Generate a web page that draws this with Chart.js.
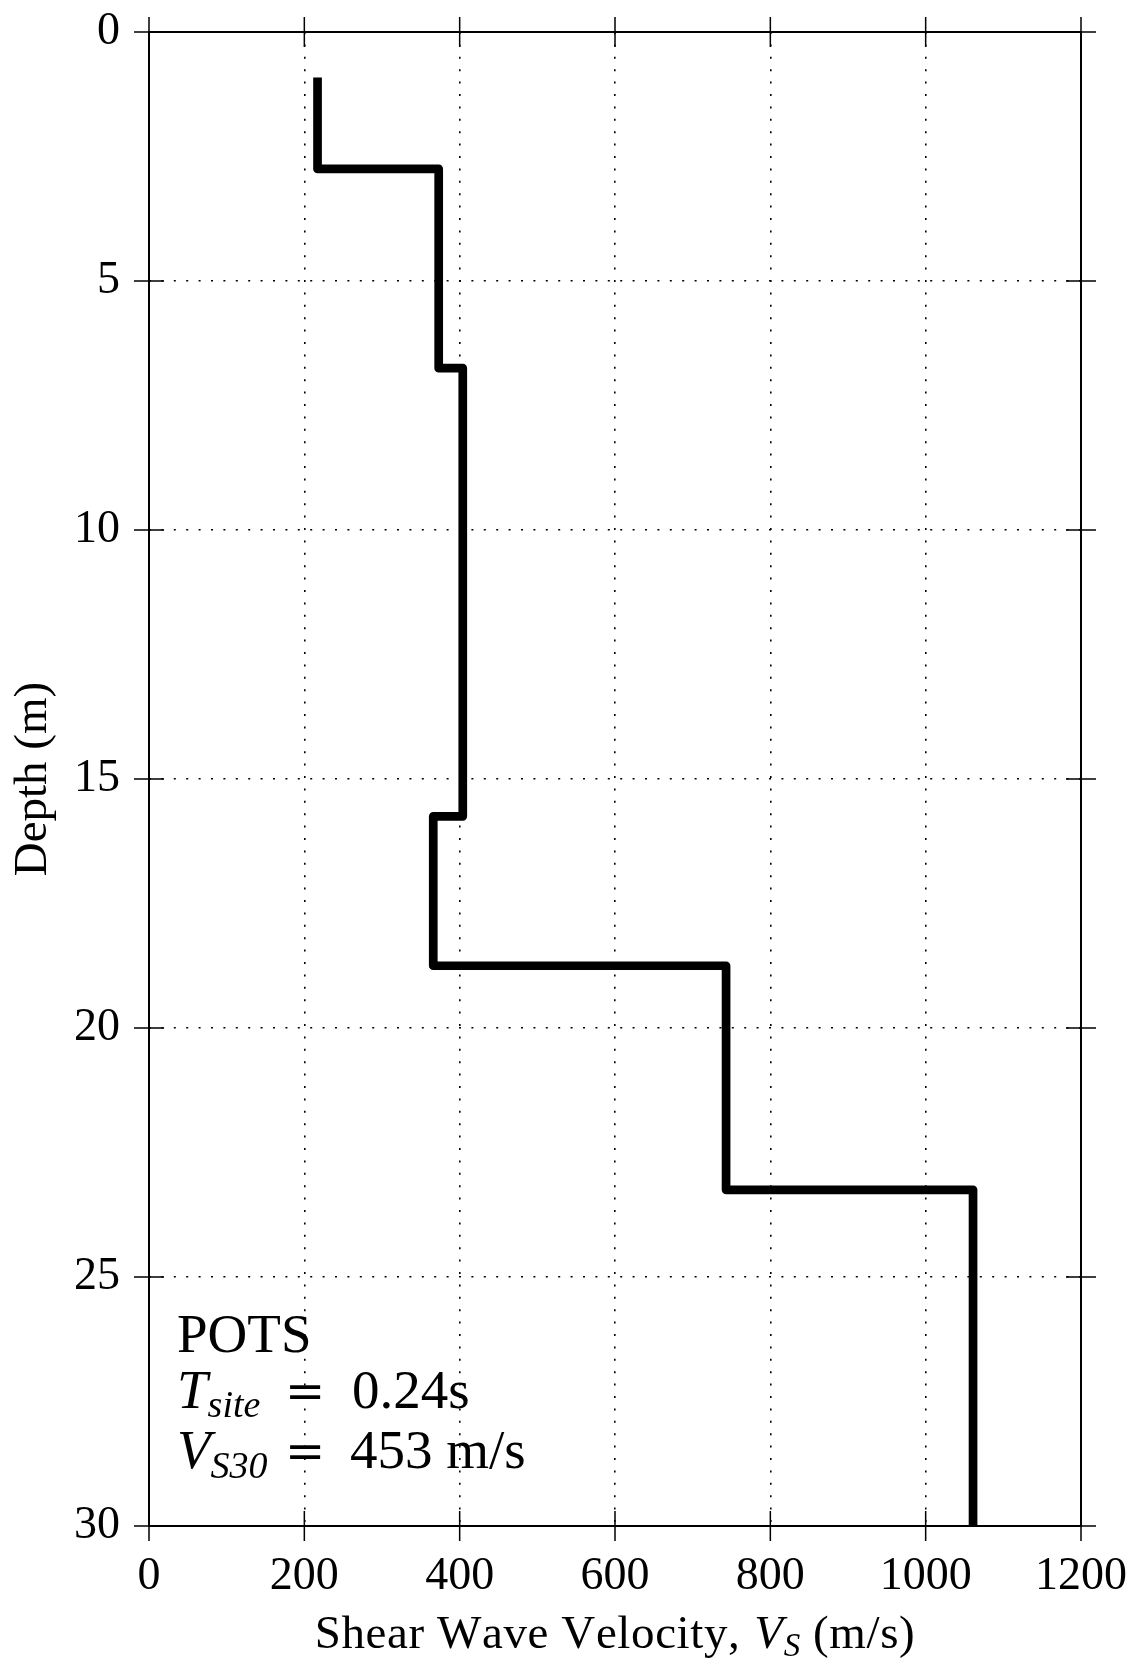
<!DOCTYPE html>
<html>
<head>
<meta charset="utf-8">
<script src="https://cdn.jsdelivr.net/npm/chart.js@4.4.1/dist/chart.umd.min.js"></script>
<style>
  html, body { margin: 0; padding: 0; background: #ffffff; }
  #wrap { width: 1139px; height: 1664px; }
</style>
</head>
<body>
<div id="wrap"><canvas id="c" width="1139" height="1664"></canvas></div>
<script>
// ---- data ----
const layerTop    = [1.0, 2.75, 6.75, 15.75, 18.75, 23.25];
const layerBottom = [2.75, 6.75, 15.75, 18.75, 23.25, 30.0];
const layerVs     = [217, 373, 404, 366, 743, 1061];

const xTicks = [0, 200, 400, 600, 800, 1000, 1200];
const yTicks = [0, 5, 10, 15, 20, 25, 30];

const siteName = 'POTS';
const tSiteValue = '0.24s';
const vs30Value = '453 m/s';
const xTitleMain = 'Shear Wave Velocity,';
const xTitleUnit = ' (m/s)';
const yTitleText = 'Depth (m)';

// ---- build step profile points ----
const profile = [];
for (let i = 0; i < layerVs.length; i++) {
  profile.push({ x: layerVs[i], y: layerTop[i] });
  profile.push({ x: layerVs[i], y: layerBottom[i] });
}

const FAMILY = '"Liberation Serif", "Times New Roman", serif';

function fontStr(size, italic, fam) {
  return (italic ? 'italic ' : '') + size + 'px ' + (fam || FAMILY);
}

function textWidth(ctx, t, sp) {
  if (!sp) return ctx.measureText(t).width;
  let w = 0;
  for (const ch of t) w += ctx.measureText(ch).width + sp;
  return w;
}

function drawRich(ctx, parts, x, y, align, spacing) {
  const sp = spacing || 0;
  const widths = parts.map(p => {
    ctx.font = fontStr(p.size, p.italic, p.fam);
    return (p.pre || 0) + textWidth(ctx, p.t, sp);
  });
  const total = widths.reduce((s, w) => s + w, 0);
  let cx = align === 'center' ? x - total / 2 : x;
  parts.forEach((p, i) => {
    ctx.font = fontStr(p.size, p.italic, p.fam);
    const start = (p.at !== undefined) ? x + p.at : cx;
    const px = start + (p.pre || 0);
    if (sp) {
      let gx = px;
      for (const ch of p.t) {
        ctx.fillText(ch, gx, y + (p.dy || 0));
        gx += ctx.measureText(ch).width + sp;
      }
    } else {
      ctx.fillText(p.t, px, y + (p.dy || 0));
    }
    cx = start + widths[i];
  });
}

const decor = {
  id: 'decor',
  afterDraw(chart) {
    const { ctx, chartArea: a, scales: { x, y } } = chart;
    ctx.save();
    ctx.strokeStyle = '#000';
    ctx.fillStyle = '#000';
    // frame
    ctx.lineWidth = 2;
    ctx.strokeRect(a.left, a.top, a.right - a.left, a.bottom - a.top);
    // ticks on all four sides, inside and outside
    ctx.lineWidth = 1.5;
    ctx.beginPath();
    const T = 15;
    xTicks.forEach(v => {
      const p = x.getPixelForValue(v);
      ctx.moveTo(p, a.top - T); ctx.lineTo(p, a.top + T);
      ctx.moveTo(p, a.bottom - T); ctx.lineTo(p, a.bottom + T);
    });
    yTicks.forEach(v => {
      const p = y.getPixelForValue(v);
      ctx.moveTo(a.left - T, p); ctx.lineTo(a.left + T, p);
      ctx.moveTo(a.right - T, p); ctx.lineTo(a.right + T, p);
    });
    ctx.stroke();

    // x axis title with italic V_S
    ctx.textBaseline = 'alphabetic';
    ctx.textAlign = 'left';
    drawRich(ctx, [
      { t: xTitleMain, size: 47, italic: false },
      { t: 'V', size: 47, italic: true, pre: 14 },
      { t: 'S', size: 33, italic: true, dy: 8 },
      { t: xTitleUnit, size: 47, italic: false }
    ], (a.left + a.right) / 2, a.bottom + 122, 'center', 0.6);

    // annotation block
    const x0 = a.left + 28;
    const EQ = '"DejaVu Serif", serif';
    drawRich(ctx, [{ t: siteName, size: 55, italic: false }], x0, a.bottom - 174, 'left');
    drawRich(ctx, [
      { t: 'T', size: 55, italic: true },
      { t: 'site', size: 38, italic: true, dy: 8.5 },
      { t: '=', size: 48, italic: false, at: 108, fam: EQ },
      { t: tSiteValue, size: 55, italic: false, at: 175 }
    ], x0, a.bottom - 118, 'left');
    drawRich(ctx, [
      { t: 'V', size: 55, italic: true },
      { t: 'S30', size: 38, italic: true, dy: 9.5 },
      { t: '=', size: 48, italic: false, at: 108, fam: EQ },
      { t: vs30Value, size: 55, italic: false, at: 173 }
    ], x0, a.bottom - 58, 'left');
    ctx.restore();
  }
};

const gridCommon = {
  color: '#000',
  lineWidth: 1.6,
  drawTicks: false,
  drawOnChartArea: true
};

new Chart(document.getElementById('c'), {
  type: 'scatter',
  data: {
    datasets: [{
      data: profile,
      showLine: true,
      borderColor: '#000',
      backgroundColor: '#000',
      borderWidth: 8.7,
      borderJoinStyle: 'round',
      borderCapStyle: 'square',
      pointRadius: 0,
      pointHoverRadius: 0,
      tension: 0,
      clip: 0
    }]
  },
  options: {
    responsive: false,
    devicePixelRatio: 1,
    animation: false,
    events: [],
    layout: { padding: { left: 0, top: 32, right: 58, bottom: 0 } },
    plugins: { legend: { display: false }, tooltip: { enabled: false } },
    scales: {
      x: {
        type: 'linear',
        position: 'bottom',
        min: 0, max: 1200,
        afterBuildTicks: s => { s.ticks = xTicks.map(v => ({ value: v })); },
        afterFit: s => { s.height = 138; s.paddingLeft = 0; s.paddingRight = 0; },
        ticks: {
          color: '#000',
          font: { family: FAMILY, size: 46 },
          padding: 23,
          maxRotation: 0,
          autoSkip: false,
          callback: v => String(v)
        },
        grid: gridCommon,
        border: { display: false, dash: [2, 10.4] },
        title: { display: false }
      },
      y: {
        type: 'linear',
        position: 'left',
        reverse: true,
        min: 0, max: 30,
        afterBuildTicks: s => { s.ticks = yTicks.map(v => ({ value: v })); },
        afterFit: s => { s.width = 149; s.paddingTop = 0; s.paddingBottom = 0; },
        ticks: {
          color: '#000',
          font: { family: FAMILY, size: 46 },
          padding: 29,
          autoSkip: false,
          callback: v => String(v)
        },
        grid: gridCommon,
        border: { display: false, dash: [2, 10.4] },
        title: {
          display: true,
          text: yTitleText,
          color: '#000',
          font: { family: FAMILY, size: 47 },
          padding: { top: 5, bottom: 0 }
        }
      }
    }
  },
  plugins: [decor]
});
</script>
</body>
</html>
